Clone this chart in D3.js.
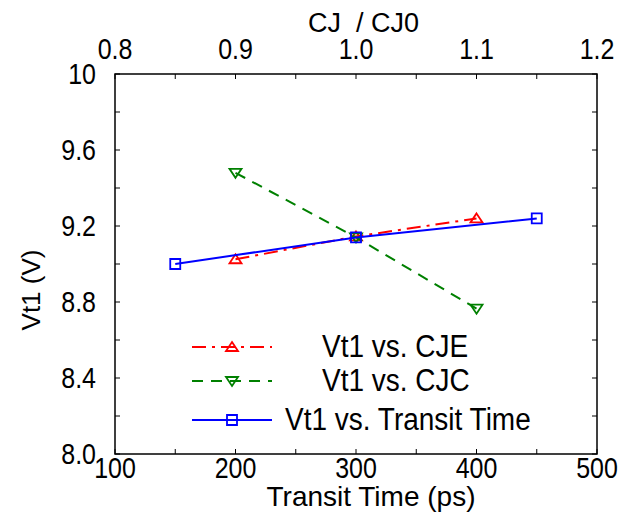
<!DOCTYPE html>
<html>
<head>
<meta charset="utf-8">
<script src="https://cdn.jsdelivr.net/npm/d3@7"></script>
<style>
  body { margin: 0; background: #fff; }
  text { font-family: "Liberation Sans", Arial, sans-serif; fill: #000; }
</style>
</head>
<body>
<div class="chart"></div>
<script>
// data
var transitTime = [150, 300, 450];
var vtTransit = [9.00, 9.14, 9.24];

var cjRatio = [0.9, 1.0, 1.1];
var vtCJE = [9.025, 9.145, 9.24];
var vtCJC = [9.48, 9.14, 8.765];

var bottomTicks = [100, 200, 300, 400, 500];
var topTicks = [0.8, 0.9, 1.0, 1.1, 1.2];
var leftTicks = [8.0, 8.4, 8.8, 9.2, 9.6, 10];

var legendNames = ["Vt1 vs. CJE", "Vt1 vs. CJC", "Vt1 vs. Transit Time"];

var margin = {top: 74, right: 25, bottom: 61, left: 115};
var width = 622 - margin.left - margin.right;
var height = 515 - margin.top - margin.bottom;

var x = d3.scaleLinear().domain([100, 500]).range([0, width]);
var x2 = d3.scaleLinear().domain([0.8, 1.2]).range([0, width]);
var y = d3.scaleLinear().domain([8, 10]).range([height, 0]);

var svg = d3.select(".chart").append("svg")
    .attr("width", 622)
    .attr("height", 515)
  .append("g")
    .attr("transform", "translate(" + margin.left + "," + margin.top + ")");

// the original font is taller than it is wide, so stretch a bit vertically
var tickStretch = 1.18;
function tallText(sel, px, py) {
  return sel.attr("transform", function(d) {
    return "translate(" + px(d) + "," + py(d) + ") scale(1," + tickStretch + ")";
  });
}

// ticks, drawn inward (major + minor)
var tg = svg.append("g").attr("stroke", "#000").attr("stroke-width", 1);
d3.range(100, 501, 50).forEach(function(v) {
  tg.append("line").attr("x1", x(v)).attr("x2", x(v)).attr("y1", height).attr("y2", height - 5);
  tg.append("line").attr("x1", x(v)).attr("x2", x(v)).attr("y1", 0).attr("y2", 5);
});
d3.range(0, 11).map(function(i) { return 8 + i * 0.2; }).forEach(function(v) {
  tg.append("line").attr("x1", 0).attr("x2", 5).attr("y1", y(v)).attr("y2", y(v));
  tg.append("line").attr("x1", width).attr("x2", width - 5).attr("y1", y(v)).attr("y2", y(v));
});

// frame
svg.append("rect")
    .attr("width", width)
    .attr("height", height)
    .attr("fill", "none")
    .attr("stroke", "#000")
    .attr("stroke-width", 1.5);

// tick labels
tallText(svg.selectAll(".bl").data(bottomTicks).enter().append("text"),
    function(d) { return x(d); }, function() { return height + 24; })
    .attr("text-anchor", "middle")
    .style("font-size", "25px")
    .text(function(d) { return d; });

tallText(svg.selectAll(".tl").data(topTicks).enter().append("text"),
    function(d) { return x2(d); }, function() { return -15; })
    .attr("text-anchor", "middle")
    .style("font-size", "25px")
    .text(function(d) { return d3.format(".1f")(d); });

tallText(svg.selectAll(".ll").data(leftTicks).enter().append("text"),
    function() { return -19; }, function(d) { return y(d) + 10; })
    .attr("text-anchor", "end")
    .style("font-size", "25px")
    .text(function(d) { return d === 10 ? "10" : d3.format(".1f")(d); });

// axis titles
svg.append("text")
    .attr("x", 371 - margin.left)
    .attr("y", height + 52)
    .attr("text-anchor", "middle")
    .style("font-size", "28px")
    .text("Transit Time (ps)");

svg.append("text")
    .attr("x", 308 - margin.left)
    .attr("y", 32 - margin.top)
    .style("font-size", "27px")
    .attr("xml:space", "preserve")
    .text("CJ  / CJ0");

svg.append("text")
    .attr("transform", "translate(-75," + (290 - margin.top) + ") rotate(-90)")
    .attr("text-anchor", "middle")
    .style("font-size", "26px")
    .text("Vt1 (V)");

// series
var series = [
  {xs: cjRatio, ys: vtCJE, sx: x2, color: "#ff0000", dash: "14,6,3,6", marker: "up"},
  {xs: cjRatio, ys: vtCJC, sx: x2, color: "#008000", dash: "11,8", marker: "down"},
  {xs: transitTime, ys: vtTransit, sx: x, color: "#0000ff", dash: null, marker: "square"}
];

function markerPath(type) {
  if (type === "up") return "M0,-5L6,4L-6,4Z";
  if (type === "down") return "M0,5L6,-4L-6,-4Z";
  return "M-5,-5L5,-5L5,5L-5,5Z";
}

series.forEach(function(s) {
  var pts = s.xs.map(function(v, i) { return [s.sx(v), y(s.ys[i])]; });
  svg.append("path")
      .attr("d", d3.line()(pts))
      .attr("fill", "none")
      .attr("stroke", s.color)
      .attr("stroke-width", 2)
      .attr("stroke-dasharray", s.dash);
  svg.selectAll(null).data(pts).enter().append("path")
      .attr("transform", function(d) { return "translate(" + d[0] + "," + d[1] + ")"; })
      .attr("d", markerPath(s.marker))
      .attr("fill", "none")
      .attr("stroke", s.color)
      .attr("stroke-width", 1.8);
});

// legend
var legY = [347, 381, 420];
var legTextX = [322, 322, 285];
series.forEach(function(s, i) {
  var g = svg.append("g").attr("transform", "translate(0," + (legY[i] - margin.top) + ")");
  g.append("line")
      .attr("x1", 192 - margin.left).attr("x2", 272 - margin.left)
      .attr("stroke", s.color)
      .attr("stroke-width", 2)
      .attr("stroke-dasharray", s.dash);
  g.append("path")
      .attr("transform", "translate(" + (232 - margin.left) + ",0)")
      .attr("d", markerPath(s.marker))
      .attr("fill", "none")
      .attr("stroke", s.color)
      .attr("stroke-width", 1.8);
  g.append("text")
      .attr("transform", "translate(" + (legTextX[i] - margin.left) + ",10) scale(1,1.1)")
      .style("font-size", "28px")
      .text(legendNames[i]);
});
</script>
</body>
</html>
